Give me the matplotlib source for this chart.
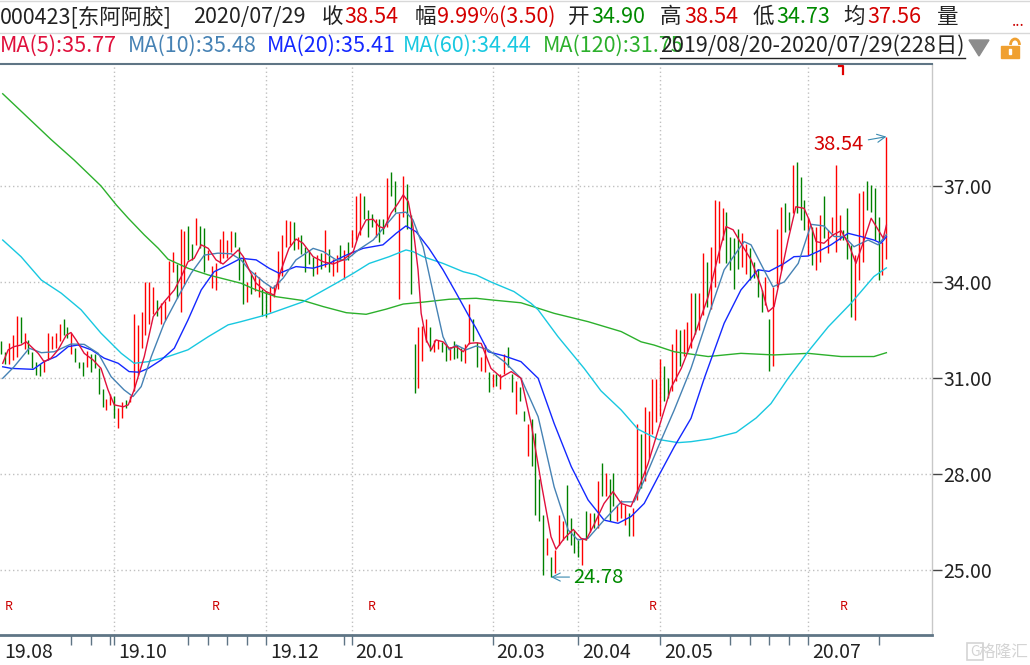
import matplotlib
matplotlib.use('Agg')
import matplotlib.pyplot as plt
import matplotlib.transforms as mtransforms
from matplotlib.patches import Rectangle, Arc, Polygon

plt.rcParams['font.family'] = ['Noto Sans CJK SC', 'DejaVu Sans']

# quote header
code = '000423'
name = '东阿阿胶'
quote_date = '2020/07/29'
q_close = 38.54
q_pct = 9.99
q_chg = 3.50
q_open = 34.90
q_high = 38.54
q_low = 34.73
q_avg = 37.56
range_text = '2019/08/20-2020/07/29(228日)'

# daily bars 2019/08/20 .. 2020/07/29, 228 trading days
high = [
    32.15, 31.80, 32.10, 32.35, 32.95, 32.90, 32.40, 32.20, 31.80, 31.50,
    31.45, 31.55, 32.40, 32.30, 32.40, 32.70, 32.85, 32.60, 32.40, 31.95,
    31.50, 31.50, 31.85, 31.75, 31.75, 31.30, 30.65, 30.35, 30.50, 30.45,
    30.05, 30.25, 30.30, 30.45, 33.00, 32.65, 33.05, 34.00, 34.00, 33.85,
    33.45, 33.35, 33.40, 34.65, 34.95, 34.55, 35.65, 35.60, 35.75, 35.20,
    36.00, 35.75, 35.70, 35.00, 34.50, 34.60, 35.35, 35.60, 35.30, 35.60,
    35.55, 35.10, 34.78, 34.00, 34.26, 34.31, 34.15, 33.79, 33.73, 33.86,
    33.89, 34.96, 35.46, 35.93, 35.91, 35.88, 35.39, 35.46, 35.09, 34.99,
    34.78, 34.83, 34.91, 35.62, 35.04, 34.73, 34.83, 35.15, 35.01, 35.25,
    35.62, 36.69, 36.77, 36.69, 36.25, 36.12, 35.98, 35.98, 35.98, 37.24,
    37.45, 37.17, 36.14, 37.31, 37.06, 36.09, 32.06, 32.58, 32.63, 32.84,
    32.58, 32.19, 32.18, 32.11, 32.06, 31.97, 32.16, 32.03, 31.95, 32.06,
    33.31, 32.84, 32.12, 31.65, 32.02, 31.18, 31.13, 31.13, 31.13, 31.75,
    31.96, 31.13, 30.92, 30.71, 29.97, 29.55, 29.71, 29.29, 27.83, 26.73,
    25.99, 25.42, 25.63, 26.73, 26.52, 27.67, 26.62, 26.26, 25.94, 25.99,
    26.83, 26.78, 26.78, 27.77, 28.35, 28.04, 27.83, 28.04, 27.04, 27.20,
    27.04, 26.78, 26.94, 29.55, 29.24, 30.10, 29.97, 30.97, 30.97, 31.60,
    31.36, 31.00, 32.07, 32.54, 32.49, 32.54, 32.75, 33.64, 33.64, 33.64,
    34.89, 34.63, 35.10, 36.56, 36.53, 36.30, 36.20, 35.41, 35.36, 35.67,
    35.52, 35.20, 35.05, 34.63, 34.42, 33.74, 34.16, 32.85, 33.84, 35.67,
    36.35, 36.46, 36.20, 37.66, 37.76, 37.29, 36.56, 35.99, 35.73, 35.73,
    36.09, 36.69, 35.62, 36.02, 37.66, 36.09, 35.62, 36.30, 35.15, 34.84,
    36.77, 36.83, 37.17, 37.03, 36.93, 36.04, 35.25, 38.54,
]
low = [
    31.75, 31.43, 31.45, 31.55, 31.65, 32.10, 31.90, 31.75, 31.30, 31.10,
    31.05, 31.20, 31.55, 31.90, 31.95, 32.15, 32.35, 32.25, 31.75, 31.50,
    31.30, 31.05, 31.35, 31.20, 31.30, 30.50, 30.10, 30.00, 30.15, 29.75,
    29.45, 29.75, 30.05, 30.25, 30.60, 31.10, 31.95, 32.35, 32.70, 33.00,
    32.95, 32.70, 32.80, 33.40, 34.30, 33.50, 33.05, 33.95, 34.70, 34.70,
    35.15, 35.05, 34.30, 34.70, 33.80, 33.75, 34.60, 34.75, 34.75, 34.95,
    35.10, 34.05, 33.31, 33.37, 33.63, 33.73, 33.52, 32.95, 32.90, 33.05,
    33.52, 33.79, 34.20, 35.09, 35.15, 34.99, 35.04, 34.88, 34.31, 34.57,
    34.20, 34.26, 34.41, 34.47, 34.31, 34.20, 34.31, 34.68, 34.10, 34.68,
    35.09, 35.30, 35.46, 35.98, 35.41, 35.72, 35.41, 35.25, 35.51, 35.72,
    36.70, 36.19, 33.47, 36.04, 35.67, 33.63, 30.54, 30.70, 31.53, 32.11,
    31.85, 31.80, 31.90, 31.80, 31.53, 31.57, 31.59, 31.64, 31.53, 31.48,
    32.06, 32.15, 31.34, 31.23, 31.18, 30.55, 30.71, 30.76, 30.65, 31.13,
    31.34, 30.55, 29.87, 30.29, 29.66, 28.56, 28.25, 26.73, 26.52, 24.85,
    25.47, 24.78, 24.90, 25.79, 25.94, 25.94, 25.79, 25.52, 25.42, 25.16,
    25.94, 26.20, 26.31, 26.31, 27.30, 27.30, 26.52, 26.99, 26.52, 26.62,
    26.41, 26.05, 26.05, 27.20, 27.57, 27.77, 28.51, 29.24, 29.61, 29.82,
    30.29, 30.39, 30.60, 30.92, 31.39, 31.70, 31.81, 31.95, 32.38, 32.49,
    32.96, 33.22, 33.17, 33.84, 34.58, 35.31, 34.58, 34.37, 33.79, 34.42,
    34.47, 34.26, 34.05, 34.11, 33.53, 33.06, 33.27, 31.23, 31.39, 33.84,
    34.37, 35.57, 35.62, 36.14, 36.14, 35.93, 35.62, 34.84, 34.52, 34.37,
    34.63, 35.36, 34.89, 35.52, 34.94, 35.31, 35.31, 34.73, 32.90, 32.80,
    34.05, 34.63, 36.25, 36.20, 35.31, 34.05, 34.21, 34.73,
]
# 1 = closed up (red), 0 = closed down (green)
up = [
    0, 0, 1, 1, 1, 0, 1, 0, 0, 0,  0, 1, 1, 1, 1, 1, 0, 0, 1, 0,
    0, 0, 1, 0, 0, 0, 0, 1, 1, 0,  1, 1, 0, 1, 1, 1, 1, 1, 1, 1,
    0, 1, 1, 1, 1, 0, 1, 1, 0, 0,  1, 0, 0, 1, 1, 1, 1, 1, 1, 1,
    0, 0, 0, 1, 0, 1, 1, 0, 0, 1,  1, 1, 1, 1, 1, 0, 1, 0, 0, 0,
    0, 1, 0, 1, 0, 1, 1, 0, 1, 0,  1, 1, 1, 0, 0, 0, 1, 0, 0, 1,
    0, 0, 1, 1, 0, 0, 0, 1, 1, 1,  0, 1, 1, 0, 0, 1, 0, 0, 0, 1,
    1, 0, 0, 1, 1, 0, 1, 0, 1, 1,  0, 0, 1, 0, 0, 1, 0, 0, 0, 0,
    1, 0, 1, 1, 1, 0, 0, 0, 0, 1,  0, 1, 0, 1, 0, 1, 0, 0, 1, 1,
    1, 0, 1, 1, 0, 1, 1, 1, 1, 1,  0, 0, 1, 1, 0, 1, 1, 1, 0, 1,
    1, 0, 1, 1, 1, 1, 0, 0, 0, 0,  1, 1, 0, 0, 0, 0, 1, 0, 1, 1,
    1, 0, 0, 1, 0, 0, 0, 1, 0, 1,  1, 0, 1, 1, 1, 1, 0, 0, 0, 1,
    1, 1, 0, 0, 0, 0, 1, 1,
]

# moving averages, sampled (trading-day index, value)
ma5_day = [0.4, 1.8, 3.3, 5.1, 6.4, 7.7, 9.5, 11.0, 12.8, 14.6, 16.7, 17.9, 19.2, 21.3, 23.6,
           25.6, 27.4, 29.0, 31.3, 32.6, 34.1, 36.7, 39.0, 41.8, 44.4, 46.2, 47.9, 49.5, 51.3,
           53.1, 55.1, 56.9, 59.0, 60.8, 62.1, 63.6, 65.4, 67.9, 70.0, 71.8, 73.8, 75.6, 77.4,
           80.0, 82.6, 85.1, 87.7, 90.3, 91.8, 93.6, 95.4, 96.9, 98.2, 100.0, 101.8, 103.1,
           104.4, 105.6, 106.9, 107.7, 109.0, 110.3, 111.5, 113.3, 114.9, 116.7, 118.5, 120.0,
           121.8, 123.1, 125.6, 128.2, 130.8, 133.3, 135.9, 138.5, 141.0, 142.3, 144.4, 146.7,
           148.7, 150.0, 152.0, 154.6, 156.9, 159.0, 161.5, 163.3, 165.9, 168.5, 171.8, 174.4,
           176.9, 177.7, 181.3, 183.8, 185.9, 187.7, 189.7, 192.3, 194.9, 196.7, 198.2, 200.0,
           201.8, 203.8, 205.9, 207.2, 209.0, 211.0, 213.3, 215.4, 217.4, 219.2, 221.0, 223.1,
           224.9, 226.2, 227.0]
ma5_val = [31.46, 31.88, 31.98, 32.03, 32.13, 31.98, 31.77, 31.51, 31.62, 31.88, 32.34, 32.42,
           32.19, 31.77, 31.56, 31.30, 30.63, 30.16, 30.10, 30.16, 30.63, 31.67, 32.92, 33.38,
           33.75, 34.17, 34.63, 34.74, 35.16, 35.05, 34.69, 34.56, 34.79, 35.00, 34.79, 34.38,
           33.96, 33.70, 33.59, 34.38, 35.05, 35.34, 35.21, 34.79, 34.63, 34.56, 34.69, 34.95,
           35.52, 35.94, 35.96, 35.73, 35.68, 36.15, 36.46, 36.72, 36.51, 35.73, 34.38, 33.02,
           32.19, 31.88, 32.19, 32.13, 31.93, 31.98, 31.82, 32.08, 32.10, 32.08, 31.30, 31.02,
           31.20, 30.99, 29.58, 27.71, 26.04, 25.65, 25.99, 26.27, 25.99, 25.94, 26.41, 27.08,
           27.45, 27.08, 26.98, 27.50, 28.33, 29.38, 30.70, 31.30, 32.08, 32.29, 33.54, 34.79,
           35.73, 35.63, 35.21, 34.69, 33.85, 33.07, 33.23, 34.27, 35.31, 36.35, 36.30, 35.94,
           35.26, 35.21, 35.47, 35.60, 35.16, 34.58, 35.21, 35.99, 35.63, 35.37, 35.77]

ma10_day = [0.4, 3.3, 7.2, 10.3, 13.6, 17.9, 21.3, 24.9, 28.2, 31.5, 33.8, 35.9, 38.5, 41.8, 45.4,
            48.7, 52.1, 55.6, 59.0, 61.5, 63.6, 67.2, 69.7, 72.3, 75.6, 80.0, 82.6, 85.9, 88.5,
            91.8, 95.4, 98.7, 101.3, 103.8, 105.6, 108.2, 110.8, 113.3, 114.9, 116.7, 119.2,
            121.8, 124.9, 129.0, 133.3, 137.7, 141.8, 145.4, 147.9, 150.5, 154.6, 159.0, 162.3,
            164.9, 168.5, 172.6, 176.9, 181.3, 185.4, 190.5, 192.3, 195.6, 197.9, 200.8, 204.4,
            207.7, 211.0, 213.6, 216.2, 218.7, 222.3, 224.9, 227.0]
ma10_val = [30.99, 31.35, 31.93, 31.79, 31.82, 32.06, 32.05, 31.77, 31.04, 30.63, 30.42, 30.73,
            31.67, 32.71, 33.54, 34.27, 34.84, 34.90, 34.88, 34.69, 34.38, 34.01, 33.80, 34.12,
            34.69, 35.05, 34.95, 34.69, 34.69, 35.02, 35.31, 35.78, 36.15, 36.18, 35.94, 35.10,
            33.65, 32.29, 31.88, 32.03, 31.88, 32.00, 31.88, 31.51, 30.99, 29.79, 27.60, 26.25,
            25.94, 25.99, 26.56, 27.13, 27.13, 27.81, 28.85, 30.00, 31.30, 32.92, 34.38, 35.26,
            35.16, 34.38, 33.85, 34.00, 34.58, 35.80, 35.75, 35.42, 35.42, 35.10, 35.31, 35.16,
            35.48]

ma20_day = [0.4, 2.6, 8.2, 11.0, 14.1, 17.2, 19.7, 23.1, 26.4, 30.0, 32.8, 35.4, 37.7, 41.0,
            44.4, 47.9, 51.3, 54.6, 58.2, 61.5, 65.4, 68.7, 71.3, 75.6, 80.0, 84.1, 88.5, 92.8,
            97.9, 101.3, 103.8, 106.4, 109.7, 113.3, 116.7, 120.0, 121.8, 124.9, 129.0, 133.3,
            137.7, 141.8, 146.2, 150.5, 154.6, 158.2, 161.5, 164.9, 168.5, 172.6, 176.9, 180.3,
            185.4, 189.7, 194.1, 196.9, 200.8, 203.3, 206.9, 210.3, 212.8, 217.2, 220.5, 223.8,
            225.6, 227.0]
ma20_val = [31.35, 31.30, 31.27, 31.51, 31.67, 31.98, 32.03, 31.88, 31.62, 31.46, 31.20, 31.18,
            31.30, 31.56, 31.93, 32.81, 33.75, 34.32, 34.53, 34.74, 34.69, 34.43, 34.27, 34.48,
            34.43, 34.58, 34.84, 35.05, 35.16, 35.52, 35.75, 35.57, 35.05, 34.38, 33.65, 32.92,
            32.55, 31.82, 31.69, 31.51, 30.99, 29.58, 28.23, 27.19, 26.56, 26.46, 26.67, 27.08,
            27.92, 28.85, 29.74, 30.99, 32.71, 33.75, 34.38, 34.33, 34.58, 34.79, 34.81, 35.00,
            35.16, 35.52, 35.42, 35.31, 35.21, 35.41]

ma60_day = [0.4, 5.1, 10.3, 15.4, 20.5, 25.6, 30.8, 34.1, 37.7, 42.8, 47.9, 53.1, 58.2, 61.5,
            67.9, 77.4, 85.9, 90.3, 94.4, 99.5, 103.8, 105.6, 108.2, 113.3, 118.5, 121.8, 125.6,
            131.5, 135.9, 137.7, 142.8, 149.5, 153.8, 159.0, 163.3, 168.5, 173.6, 176.9, 182.0,
            188.5, 193.6, 197.4, 201.8, 206.9, 212.1, 217.9, 223.8, 227.0]
ma60_val = [35.31, 34.79, 34.06, 33.65, 33.13, 32.40, 31.77, 31.46, 31.51, 31.67, 31.88, 32.29,
            32.66, 32.76, 32.97, 33.38, 33.96, 34.27, 34.58, 34.79, 35.00, 34.95, 34.79, 34.58,
            34.32, 34.22, 34.00, 33.70, 33.33, 33.13, 32.29, 31.30, 30.60, 30.00, 29.40, 29.08,
            28.98, 29.01, 29.10, 29.30, 29.75, 30.20, 30.99, 31.82, 32.60, 33.33, 34.17, 34.44]

ma120_day = [0.4, 12.8, 18.7, 25.6, 29.5, 32.6, 36.7, 40.3, 42.8, 47.9, 53.1, 61.5, 65.4, 70.5,
             77.4, 82.6, 88.5, 93.6, 98.7, 103.1, 108.2, 114.9, 121.8, 125.6, 133.3, 141.8,
             150.5, 159.0, 164.1, 167.4, 172.6, 181.3, 189.7, 198.2, 206.9, 215.4, 223.8, 227.0]
ma120_val = [39.88, 38.45, 37.81, 37.00, 36.41, 35.99, 35.47, 35.05, 34.71, 34.43, 34.22, 33.96,
             33.75, 33.54, 33.42, 33.23, 33.04, 32.99, 33.15, 33.31, 33.37, 33.46, 33.49, 33.44,
             33.35, 33.02, 32.76, 32.45, 32.13, 32.03, 31.82, 31.67, 31.77, 31.72, 31.77, 31.67,
             31.67, 31.79]

ma_labels = ['MA(5)', 'MA(10)', 'MA(20)', 'MA(60)', 'MA(120)']
ma_last = [35.77, 35.48, 35.41, 34.44, 31.75]

month_days = [0, 29, 68, 90, 126, 148, 169, 207]
month_labels = ['19.08', '19.10', '19.12', '20.01', '20.03', '20.04', '20.05', '20.07']
week_ticks = [18, 23, 28, 48, 53, 58, 63, 88, 187, 192, 197, 202, 225]
price_ticks = [25, 28, 31, 34, 37]
r_days = [2, 55, 95, 167, 216]
cursor_day = 216

RED = '#ff0000'
GREEN = '#008000'
TXT_RED = '#d40000'
TXT_GREEN = '#008a00'
DARK = '#222222'
AXIS = '#5f7585'
MA_COLORS = ['#e0103c', '#4682b4', '#1428ff', '#18c8e0', '#2cb02c']

W, H = 1030, 665
fig = plt.figure(figsize=(W / 100, H / 100), dpi=100)

ax = fig.add_axes([0, (H - 635) / H, 932 / W, (635 - 64) / H])
ax.set_xlim(-0.3, 238.7)
ax.set_ylim(22.97, 40.81)

for p in price_ticks:
    ax.axhline(p, color='#c0c0c0', lw=1, ls=(0, (1, 2)), zorder=0)
for d in month_days[1:]:
    ax.axvline(d, color='#c0c0c0', lw=1, ls=(0, (1, 2)), zorder=0)

days = list(range(len(high)))
ax.vlines(days, low, high, colors=[RED if u else GREEN for u in up], lw=1.0, zorder=2)

ma_days = [ma5_day, ma10_day, ma20_day, ma60_day, ma120_day]
ma_vals = [ma5_val, ma10_val, ma20_val, ma60_val, ma120_val]
for k in range(4, -1, -1):
    ax.plot(ma_days[k], ma_vals[k], color=MA_COLORS[k], lw=1.0, zorder=3)

# high / low annotations
hi_day = high.index(max(high))
lo_day = low.index(min(low))
ax.annotate(f'{max(high):.2f}', xy=(hi_day, max(high)), xytext=(hi_day - 5.7, max(high) - 0.26),
            ha='right', va='center', fontsize=14.5, color=TXT_RED,
            arrowprops=dict(arrowstyle='->', color='#3a8ab0', lw=0.8, shrinkA=1, shrinkB=0))
ax.annotate(f'{min(low):.2f}', xy=(lo_day, min(low)), xytext=(lo_day + 5.8, min(low)),
            ha='left', va='center', fontsize=14.5, color=TXT_GREEN,
            arrowprops=dict(arrowstyle='->', color='#3a8ab0', lw=0.8, shrinkA=1, shrinkB=0))

# spines and axes
ax.spines['left'].set_visible(False)
ax.spines['top'].set_color(AXIS)
ax.spines['top'].set_linewidth(1.5)
ax.spines['bottom'].set_color(AXIS)
ax.spines['bottom'].set_linewidth(2)
ax.spines['right'].set_color('#c8c8c8')
ax.spines['right'].set_linewidth(1)
ax.yaxis.tick_right()
ax.set_yticks(price_ticks)
ax.set_yticklabels([f'{p:.2f}' for p in price_ticks])
ax.tick_params(axis='y', length=7, width=1, color='#444444', labelsize=14,
               labelcolor=DARK, pad=1)
ax.set_xticks(sorted(month_days[1:] + week_ticks))
ax.set_xticklabels([])
ax.tick_params(axis='x', length=7, width=1, color=AXIS, direction='out')

trans = mtransforms.blended_transform_factory(ax.transData, ax.transAxes)
for d, lab in zip(month_days, month_labels):
    ax.text(d + 0.9, -0.03, lab, transform=trans, ha='left', va='center',
            fontsize=14, color=DARK, clip_on=False)
for d in r_days:
    ax.text(d, 0.05, 'R', transform=trans, ha='center', va='center',
            fontsize=9, color='#cc0000')
# little red cursor mark under the top border
ax.plot([cursor_day - 1.2, cursor_day, cursor_day], [0.996, 0.996, 0.982], transform=trans,
        color='#e00000', lw=1.6, clip_on=False, zorder=5)

# header rows, pixel coordinates
hdr = fig.add_axes([0, 0, 1, 1])
hdr.set_xlim(0, W)
hdr.set_ylim(H, 0)
hdr.axis('off')

y1, y2 = 17, 46
fs = 15.5
row1 = [
    (0, f'{code}[{name}]', DARK),
    (193, quote_date, DARK),
    (322, '收', DARK), (344, f'{q_close:.2f}', TXT_RED),
    (415, '幅', DARK), (437, f'{q_pct:.2f}%({q_chg:.2f})', TXT_RED),
    (568, '开', DARK), (591, f'{q_open:.2f}', TXT_GREEN),
    (660, '高', DARK), (684, f'{q_high:.2f}', TXT_RED),
    (753, '低', DARK), (776, f'{q_low:.2f}', TXT_GREEN),
    (843, '均', DARK), (867, f'{q_avg:.2f}', TXT_RED),
    (937, '量', DARK),
]
for x, s, c in row1:
    hdr.text(x, y1, s, ha='left', va='center', fontsize=fs, color=c)
hdr.text(1012, y1 + 4, '...', ha='left', va='center', fontsize=11, color='#cc0000')

ma_x = [0, 128, 267, 403, 543]
for x, lab, v, c in zip(ma_x, ma_labels, ma_last, MA_COLORS):
    hdr.text(x, y2, f'{lab}:{v:.2f}', ha='left', va='center', fontsize=fs, color=c)
rt = hdr.text(660, y2, range_text, ha='left', va='center', fontsize=fs, color=DARK)
fig.canvas.draw()
bb = rt.get_window_extent()
hdr.plot([bb.x0, bb.x1], [58, 58], color=DARK, lw=1)

hdr.add_patch(Polygon([[969, 40], [989, 40], [979, 56]], closed=True, color='#8c8c8c'))
hdr.add_patch(Rectangle((1001, 46), 18, 12, color='#f0a030'))
hdr.add_patch(Arc((1015, 45), 9, 12, theta1=180, theta2=360, color='#f0a030', lw=2))
hdr.add_patch(Rectangle((1008.5, 49), 2.5, 5, color='white'))

hdr.plot([0, W], [1, 1], color='#d8d8d8', lw=1)
hdr.plot([0, W], [33, 33], color='#d8d8d8', lw=1)

# watermark
hdr.text(1028, 652, '格隆汇', ha='right', va='center', fontsize=12, color='#d4d4d4')
hdr.add_patch(Rectangle((967, 643), 16, 17, fill=False, ec='#d4d4d4', lw=1.2))
hdr.text(975, 652, 'G', ha='center', va='center', fontsize=10, color='#d4d4d4')

fig.savefig('out.png', dpi=100)
